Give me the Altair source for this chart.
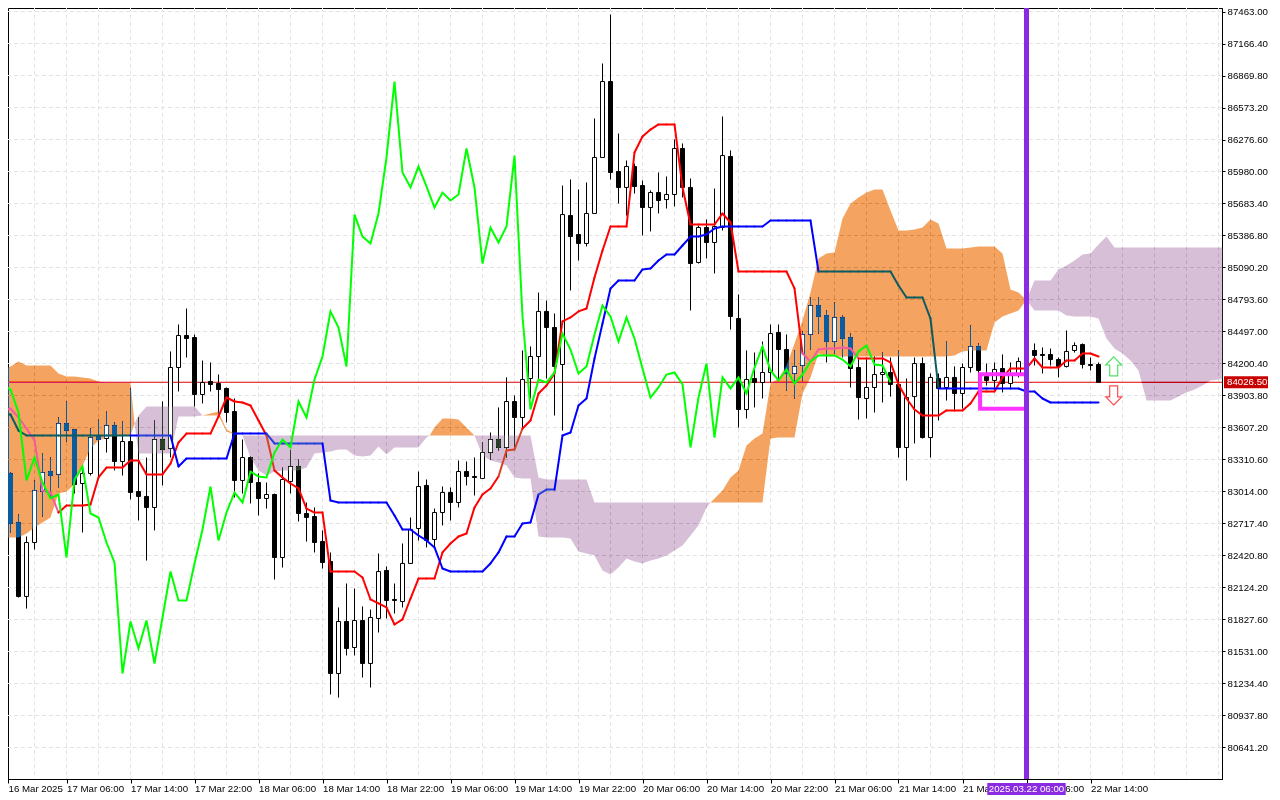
import altair as alt
import numpy as np
import pandas as pd

FONT = "Liberation Sans"
FS = 9.7

opens = [83079,83181,82727,82041,82541,83014,83199,83172,83644,83589,
83088,83181,83533,83505,83626,83292,83477,83014,82968,82866,
83496,83413,84163,84460,84441,83913,84034,84015,83969,83755,
83116,83329,83097,82949,82986,82402,83107,83246,82810,82782,
82550,82365,81327,81809,81568,81818,81420,81837,82282,82013,
81994,82347,82671,83070,82569,82819,83005,82912,83199,83153,
83135,83375,83496,83422,83848,83700,84061,84265,84683,84534,
84191,85572,85396,85313,85591,86110,86814,85980,85832,86026,
85850,85646,85785,85720,85767,86193,85832,85137,85461,85322,
85461,86119,84617,83774,84061,84024,84117,84488,84330,84108,
84182,84469,84738,84645,84404,84627,84441,84163,83876,83978,
84098,84117,84006,83422,83894,84200,83514,84061,83978,84071,
83922,84163,84358,84080,84043,84154,84015,84098,84219,84321,
84284,84284,84237,84173,84321,84376,84191,84191]
highs = [83199,83190,82801,82597,83116,83366,83329,83700,83848,83589,
83255,83600,83681,83755,83654,83663,83969,83700,83329,83672,
83848,84312,84562,84710,84469,84228,84210,84098,83978,83876,
83496,83338,83181,83097,82995,83236,83394,83310,82912,82866,
82653,82449,81939,82161,82115,81948,81920,82439,82319,82161,
82532,82773,83199,83125,82856,83060,83051,83301,83292,83329,
83468,83561,83793,84071,83904,84321,84358,84858,84784,84664,
85850,85906,85813,85878,86471,86981,87435,86332,86082,86054,
85897,85804,85971,85934,86277,86240,85915,85479,85535,85822,
86490,86175,84840,84321,84302,84404,84562,84562,84469,84321,
84497,84812,84812,84692,84766,84645,84478,84256,84256,84265,
84302,84256,84321,84061,84256,84256,84108,84108,84404,84173,
84200,84553,84386,84200,84210,84284,84210,84256,84321,84386,
84349,84339,84256,84506,84395,84386,84256,84210]
lows = [83023,82634,82031,81929,82476,82782,82958,83051,83477,82995,
82634,83162,83144,83375,83209,83162,82940,82745,82374,82653,
83070,83329,83941,84256,83802,83830,83941,83718,83654,82958,
82995,82903,82791,82856,82198,82309,82995,82736,82550,82449,
82300,81132,81104,81494,81494,81290,81197,81707,81837,81883,
81939,82347,82560,82495,82495,82699,82745,82866,83070,82977,
83135,83310,83394,83329,83422,83600,83876,84024,84061,83718,
83579,84877,85155,85285,85591,86110,85906,85683,85572,85776,
85387,85424,85591,85637,85656,85739,84692,85127,85174,85035,
85433,84515,83607,83691,83793,83876,84024,84043,83950,83876,
84043,84330,84478,84210,84293,84256,83978,83681,83691,83746,
83839,83894,83329,83116,83459,83505,83329,83672,83857,83765,
83783,84117,83885,83996,83978,83932,83969,84071,84173,84182,
84108,84182,84071,84163,84302,84154,84136,84024]
closes = [83181,82717,82041,82541,83023,83190,83162,83644,83579,83079,
83181,83514,83496,83626,83292,83477,83005,82968,82866,83496,
83403,84163,84460,84432,83913,84024,84006,83959,83746,83116,
83329,83097,82949,82986,82402,83125,83246,82810,82773,82541,
82356,81327,81809,81559,81818,81420,81846,82272,82004,82004,
82347,82662,83060,82560,82819,83005,82912,83199,83153,83144,
83375,83496,83422,83848,83700,84052,84265,84683,84534,84173,
85581,85377,85313,85591,86110,86814,85971,85832,86026,85841,
85646,85785,85711,85767,86193,85832,85127,85461,85322,85470,
86128,84636,83774,84052,84024,84117,84478,84330,84108,84173,
84469,84738,84636,84404,84627,84432,84154,83885,83978,84098,
84117,84006,83422,83885,84200,83514,84071,83969,84071,83922,
84163,84358,84136,84043,84145,84015,84098,84219,84275,84275,
84275,84237,84173,84312,84367,84191,84182,84026.5]

tenkan = [83755,83783,83700,83598,83487,83023,83005,82819,82884,82884,
82884,82893,83144,83236,83236,83236,83301,83301,83172,83172,
83172,83273,83468,83551,83551,83551,83551,83709,83885,83848,
83839,83811,83672,83533,83209,83144,83088,83042,82856,82819,
82819,82272,82272,82272,82272,82217,82013,81976,81939,81781,
81828,82022,82207,82207,82207,82449,82532,82597,82625,82866,
82986,83042,83153,83394,83403,83598,83672,83922,83996,84108,
84590,84627,84683,84710,84997,85248,85470,85470,85470,86156,
86304,86369,86416,86416,86416,85832,85489,85489,85489,85489,
85591,85507,85053,85053,85053,85053,85053,85053,85053,84896,
84293,84219,84330,84339,84339,84349,84339,84247,84247,84247,
84247,84210,84006,83876,83774,83718,83718,83718,83765,83765,
83765,83830,83941,83941,83941,84071,84154,84154,84154,84247,
84163,84163,84163,84228,84228,84293,84293,84265]
kijun = [83728,83728,83579,83533,83533,83533,83533,83533,83533,83533,
83533,83533,83533,83533,83533,83533,83533,83533,83533,83533,
83533,83533,83246,83320,83320,83320,83320,83320,83320,83551,
83551,83551,83551,83551,83459,83459,83459,83459,83459,83459,
83459,82930,82912,82912,82912,82912,82912,82912,82912,82791,
82662,82662,82606,82560,82495,82300,82272,82272,82272,82272,
82272,82347,82449,82597,82597,82717,82727,82986,83032,83032,
83533,83561,83811,83876,84247,84571,84896,84970,84970,84970,
85072,85081,85155,85211,85211,85294,85377,85377,85396,85452,
85470,85470,85470,85470,85470,85470,85526,85526,85526,85526,
85526,85526,85053,85053,85053,85053,85053,85053,85053,85053,
85053,85053,84923,84812,84812,84812,84617,83969,83969,83969,
83969,83969,83969,83969,83969,83969,83969,83969,83941,83941,
83876,83839,83839,83839,83839,83839,83839,83839]
chikou = closes[26:]

cloud1_x = list(range(0, 17)) + [16.5]
cloud1_top = [84136,84173,84219,84182,84182,84182,84182,84108,84080,84080,84071,84061,84034,84024,84024,84024,84024,83644]
cloud1_bot = [82588,82588,82588,82625,82680,82727,82773,82995,83014,83079,83255,83413,83487,83514,83533,83533,83533,83644]
cloud2_x = [16.5] + list(range(17, 26))
cloud2_top = [83644,83718,83802,83802,83802,83802,83802,83802,83802,83718]
cloud2_bot = [83644,83366,83366,83366,83366,83366,83709,83709,83709,83718]
cloud3_x = list(range(25, 31))
cloud3_top = [83718,83737,83755,83589,83551,83533]
cloud3_bot = [83718,83718,83718,83570,83542,83533]
cloud4_x = list(range(30, 54)) + [53.4]
cloud4_top = [83533] * 25
cloud4_bot = [83533,83329,83209,83162,83199,83209,83209,83209,83236,83366,83375,83385,83403,83403,83347,83338,83347,83431,83357,83422,83422,83422,83422,83514,83533]
cloud5_x = [53.4] + list(range(54, 60))
cloud5_top = [83533,83607,83691,83691,83681,83607,83533]
cloud5_bot = [83533] * 7
cloud6_x = list(range(59, 89)) + [88.5]
cloud6_top = [83533] * 8 + [83144,83125,83125,83125,83125,83125,83125] + [82912] * 16
cloud6_bot = [83533,83347,83301,83282,83255,83144,83135,83135,82597,82588,82588,82588,82578,82458,82439,82421,82282,82245,82309,82393,82365,82347,82374,82393,82421,82467,82513,82606,82699,82866,82912]
cloud7_x = [88.5] + list(range(89, 129))
cloud7_top = [82912,82949,83023,83144,83209,83440,83505,83551,84015,84061,84182,84386,84599,84858,85174,85220,85229,85544,85683,85739,85785,85813,85813,85618,85433,85433,85442,85461,85535,85498,85266,85266,85266,85276,85285,85285,85285,85220,84886,84858,84789]
cloud7_bot = [82912] * 8 + [83505,83514,83514,83514,83922,84071,84293] + [84265] * 16 + [84275,84312,84321,84321,84321,84580,84636,84664,84692,84789]
cloud8_x = list(range(128, 153)) + [152.5]
cloud8_top = [84789,84970,84970,84970,85072,85109,85155,85211,85220,85303,85377] + [85276] * 15
cloud8_bot = [84789,84692,84692,84692,84692,84645,84636,84636,84636,84617,84432,84339,84293,84228,84136,83857,83857,83857,83857,83894,83932,83959,83996,84043,84052,84056]

cloud_groups = [
    (cloud1_x, cloud1_top, cloud1_bot),
    (cloud2_x, cloud2_top, cloud2_bot),
    (cloud3_x, cloud3_top, cloud3_bot),
    (cloud4_x, cloud4_top, cloud4_bot),
    (cloud5_x, cloud5_top, cloud5_bot),
    (cloud6_x, cloud6_top, cloud6_bot),
    (cloud7_x, cloud7_top, cloud7_bot),
    (cloud8_x, cloud8_top, cloud8_bot),
]
CLOUD_ORANGE_XOR = "#0B5B9F"
CLOUD_PURPLE_XOR = "#274027"
TENKAN_COLORS = ["#FF0000", "#F45B9F", "#D84027"]   # on white, in the sandy band, in the thistle band
KIJUN_COLORS = ["#0000FF", "#0B5B60", "#2740D8"]

y_ticks = [87463.00,87166.40,86869.80,86573.20,86276.60,85980.00,85683.40,85386.80,
           85090.20,84793.60,84497.00,84200.40,83903.80,83607.20,83310.60,83014.00,
           82717.40,82420.80,82124.20,81827.60,81531.00,81234.40,80937.80,80641.20]
x_labels = ["16 Mar 2025","17 Mar 06:00","17 Mar 14:00","17 Mar 22:00","18 Mar 06:00",
            "18 Mar 14:00","18 Mar 22:00","19 Mar 06:00","19 Mar 14:00","19 Mar 22:00",
            "20 Mar 06:00","20 Mar 14:00","20 Mar 22:00","21 Mar 06:00","21 Mar 14:00",
            "21 Mar 22:00","22 Mar 06:00","22 Mar 14:00"]
last_price = 84026.5
marker_bar = 128
marker_label = "2025.03.22 06:00"
box_left, box_right, box_top, box_bottom = 122.2, 128, 84100, 83780
up_arrow = (138.9, 84173)
down_arrow = (138.9, 83904)

X_DOMAIN = [0.6875, 152.4375]
Y_DOMAIN = [80349, 87495.5]
x_scale = alt.Scale(domain=X_DOMAIN, nice=False, zero=False, padding=0)
y_scale = alt.Scale(domain=Y_DOMAIN, nice=False, zero=False, padding=0)

x_axis = alt.Axis(
    title=None, grid=False, orient="bottom", values=[X_DOMAIN[0]] + [8 * k for k in range(1, 18)],
    labelExpr="[" + ",".join(f"'{t}'" for t in x_labels) + "][floor(datum.value/8)]",
    labelAlign="left", labelBaseline="middle", labelFont=FONT, labelFontSize=FS,
    labelColor="black", labelPadding=5, tickSize=4, tickColor="black", labelFlush=False,
    labelOverlap=False, labelBound=False, domainColor="black")
y_axis = alt.Axis(
    title=None, grid=False, orient="right", values=y_ticks, format=".2f",
    labelFont=FONT, labelFontSize=FS, labelColor="black", labelPadding=2, tickSize=3,
    tickColor="black", labelOverlap=False, labelBound=False, domainColor="black")

n = len(closes)
bars = pd.DataFrame({"i": range(n), "o": opens, "h": highs, "l": lows, "c": closes})
bars["top"] = bars[["o", "c"]].max(axis=1)
bars["bot"] = bars[["o", "c"]].min(axis=1)
bars["fill"] = ["white" if c > o else "black" for o, c in zip(opens, closes)]

cloud_rows = []
for g, (xs, tops, bots) in enumerate(cloud_groups):
    assert len(xs) == len(tops) == len(bots), g
    for x, t, b in zip(xs, tops, bots):
        cloud_rows.append({"i": x, "top": t, "bot": b, "seg": g})
clouds = pd.DataFrame(cloud_rows)
orange_df = clouds[clouds.seg % 2 == 0]
purple_df = clouds[clouds.seg % 2 == 1]

span = {}
for r in cloud_rows:
    if r["i"] == int(r["i"]):
        a, b = span.get(int(r["i"]), (r["bot"], r["top"]))
        span[int(r["i"])] = (min(a, r["bot"]), max(b, r["top"]))

over = bars[(bars.fill == "white")
            & [span.get(i, (0, 0))[1] > b and span.get(i, (0, 0))[0] < t
               for i, b, t in zip(bars.i, bars.bot, bars.top)]].copy()
over["top"] = over["top"] - 5
over["bot"] = over["bot"] + 5


def band_at(x, p):
    """0 outside the bands, 1 in a sandy band, 2 in a thistle band."""
    for g, (xs, tops, bots) in enumerate(cloud_groups):
        if xs[0] <= x <= xs[-1] and np.interp(x, xs, bots) <= p <= np.interp(x, xs, tops):
            return 1 if g % 2 == 0 else 2
    return 0


def line_pieces(values, palette):
    rows = []
    for k in range(len(values) - 1):
        colour = palette[band_at(k + 0.5, (values[k] + values[k + 1]) / 2)]
        rows.append({"i": k, "p": values[k], "piece": k, "colour": colour})
        rows.append({"i": k + 1, "p": values[k + 1], "piece": k, "colour": colour})
    return pd.DataFrame(rows)


X = lambda f="i": alt.X(f"{f}:Q", scale=x_scale, axis=x_axis)
Y = lambda f: alt.Y(f"{f}:Q", scale=y_scale, axis=y_axis)

GRID = "#E4E4E4"
grid_v = alt.Chart(pd.DataFrame({"i": [k for k in range(4, 153, 4)]})).mark_rule(
    color=GRID, strokeWidth=1, strokeDash=[4, 3]).encode(x=X())
grid_h = alt.Chart(pd.DataFrame({"p": y_ticks})).mark_rule(
    color=GRID, strokeWidth=1, strokeDash=[4, 3]).encode(y=Y("p"))

price_line = alt.Chart(pd.DataFrame({"p": [last_price]})).mark_rule(
    color="#E00000", strokeWidth=1).encode(y=Y("p"))

wicks = alt.Chart(bars).mark_rule(color="black", strokeWidth=1).encode(x=X(), y=Y("h"), y2="l:Q")
bodies = alt.Chart(bars).mark_bar(size=4, stroke="black", strokeWidth=1).encode(
    x=X(), y=Y("top"), y2="bot:Q",
    fill=alt.Fill("fill:N", scale=None, legend=None))

band_orange = alt.Chart(orange_df).mark_area(color=CLOUD_ORANGE_XOR, blend="difference").encode(
    x=X(), y=Y("top"), y2="bot:Q", detail="seg:N")
band_purple = alt.Chart(purple_df).mark_area(color=CLOUD_PURPLE_XOR, blend="difference").encode(
    x=X(), y=Y("top"), y2="bot:Q", detail="seg:N")

white_over = alt.Chart(over).mark_bar(size=3, color="white").encode(x=X(), y=Y("top"), y2="bot:Q")

line_tenkan = alt.Chart(line_pieces(tenkan, TENKAN_COLORS)).mark_line(
    strokeWidth=2, strokeCap="round").encode(
    x=X(), y=Y("p"), detail="piece:N", color=alt.Color("colour:N", scale=None, legend=None))
line_kijun = alt.Chart(line_pieces(kijun, KIJUN_COLORS)).mark_line(
    strokeWidth=2, strokeCap="round").encode(
    x=X(), y=Y("p"), detail="piece:N", color=alt.Color("colour:N", scale=None, legend=None))

line_chikou = alt.Chart(pd.DataFrame({"i": range(len(chikou)), "p": chikou})).mark_line(
    color="#00FF00", strokeWidth=2).encode(x=X(), y=Y("p"))

box = alt.Chart(pd.DataFrame({"a": [box_left], "b": [box_right], "t": [box_top], "u": [box_bottom]})).mark_rect(
    filled=False, stroke="#FF33FF", strokeWidth=4).encode(x=X("a"), x2="b:Q", y=Y("t"), y2="u:Q")

marker = alt.Chart(pd.DataFrame({"i": [marker_bar]})).mark_rule(
    color="#8A2BE2", strokeWidth=5).encode(x=X())

UP = "M0,-1L0.84,-0.15L0.42,-0.15L0.42,1L-0.42,1L-0.42,-0.15L-0.84,-0.15Z"
DOWN = "M0,1L0.84,0.15L0.42,0.15L0.42,-1L-0.42,-1L-0.42,0.15L-0.84,0.15Z"
arrow_up = alt.Chart(pd.DataFrame({"i": [up_arrow[0]], "p": [up_arrow[1]]})).mark_point(
    shape=UP, size=361, filled=True, fill="white", stroke="#4FE26A", strokeWidth=1.2, opacity=1).encode(x=X(), y=Y("p"))
arrow_down = alt.Chart(pd.DataFrame({"i": [down_arrow[0]], "p": [down_arrow[1]]})).mark_point(
    shape=DOWN, size=361, filled=True, fill="white", stroke="#FF4B4B", strokeWidth=1.2, opacity=1).encode(x=X(), y=Y("p"))

price_box = alt.Chart(pd.DataFrame({"t": [last_price + 55], "u": [last_price - 55]})).mark_rect(
    color="#C80000").encode(x=alt.value(1216), x2=alt.value(1260), y=Y("t"), y2="u:Q")
price_text = alt.Chart(pd.DataFrame({"p": [last_price], "s": [f"{last_price:.2f}"]})).mark_text(
    color="white", font=FONT, fontSize=FS, align="left", baseline="middle").encode(
    x=alt.value(1219), y=Y("p"), text="s:N")

stamp_box = alt.Chart(pd.DataFrame({"a": [123.1], "b": [132.9]})).mark_rect(color="#8A2BE2").encode(
    x=X("a"), x2="b:Q", y=alt.value(775), y2=alt.value(787))
stamp_text = alt.Chart(pd.DataFrame({"i": [marker_bar], "s": [marker_label]})).mark_text(
    color="white", font=FONT, fontSize=FS, align="center", baseline="middle").encode(
    x=X(), y=alt.value(781), text="s:N")

chart = alt.layer(
    grid_h, grid_v, price_line, wicks, bodies,
    band_orange, band_purple, white_over, line_tenkan, line_kijun, line_chikou, box, marker,
    arrow_up, arrow_down, price_box, price_text, stamp_box, stamp_text,
).properties(width=1214, height=771, background="white",
             autosize=alt.AutoSizeParams(type="none", contains="content"),
             padding={"left": 0, "top": 0, "right": 50, "bottom": 16}).configure_view(
    stroke="black", strokeWidth=1)

chart.save("out.html", embed_options={"renderer": "svg", "actions": False})
